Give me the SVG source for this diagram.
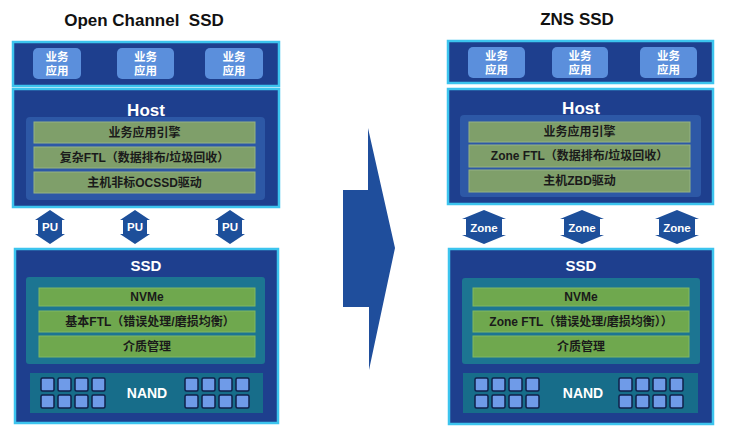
<svg xmlns="http://www.w3.org/2000/svg" width="730" height="434" viewBox="0 0 730 434">
<style>
text{font-family:"Liberation Sans","Noto Sans CJK SC",sans-serif;font-weight:bold;text-anchor:middle;dominant-baseline:central}
.title{font-size:17px;fill:#111}
.box{fill:#1e3f8e;stroke:#3cc4ee;stroke-width:2.5}
.app{fill:#5b8fdc}
.apptx{font-size:11.5px;fill:#fff}
.hpanel{fill:#2d58a6}
.spanel{fill:#1c7592}
.gh{fill:#7f9f6a;stroke:#96b283;stroke-width:1}
.gs{fill:#6fa84e;stroke:#80b862;stroke-width:1}
.bt{font-size:12px;fill:#1a1a1a}
.head{font-size:15px;fill:#fff}
.nand{fill:#176d8a}
.sq{fill:#6f9be8;stroke:#10204a;stroke-width:1.5}
.arr{fill:#1d4f9a}
.arrt{font-size:11.5px;fill:#fff}
</style>
<defs>
<g id="sqs">
<rect class="sq" x="0" y="0" width="13" height="13" rx="1.5"/>
<rect class="sq" x="17" y="0" width="13" height="13" rx="1.5"/>
<rect class="sq" x="34" y="0" width="13" height="13" rx="1.5"/>
<rect class="sq" x="51" y="0" width="13" height="13" rx="1.5"/>
<rect class="sq" x="0" y="17" width="13" height="13" rx="1.5"/>
<rect class="sq" x="17" y="17" width="13" height="13" rx="1.5"/>
<rect class="sq" x="34" y="17" width="13" height="13" rx="1.5"/>
<rect class="sq" x="51" y="17" width="13" height="13" rx="1.5"/>
</g>
<polygon id="pu" points="0,-17 -15,-7 -12,-7 -12,7 -15,7 0,17 15,7 12,7 12,-7 15,-7"/>
<polygon id="zn" points="0,-17 -22,-8 -18,-8 -18,8 -22,8 0,17 22,8 18,8 18,-8 22,-8"/>
</defs>
<rect width="730" height="434" fill="#fff"/>

<text class="title" x="144" y="20" xml:space="preserve">Open Channel  SSD</text>
<text class="title" x="577" y="19">ZNS SSD</text>

<!-- Left side -->
<g id="left-apps">
<rect class="box" x="13" y="42" width="266" height="44"/>
<rect class="app" x="33" y="48" width="48" height="31" rx="5"/>
<rect class="app" x="117" y="48" width="57" height="31" rx="5"/>
<rect class="app" x="205" y="48" width="58" height="31" rx="5"/>
<text class="apptx" x="57" y="57">业务</text><text class="apptx" x="57" y="71">应用</text>
<text class="apptx" x="145.5" y="57">业务</text><text class="apptx" x="145.5" y="71">应用</text>
<text class="apptx" x="234" y="57">业务</text><text class="apptx" x="234" y="71">应用</text>
</g>
<g id="left-host">
<rect class="box" x="13" y="89" width="266" height="118"/>
<text class="head" x="146" y="110" style="font-size:17px">Host</text>
<rect class="hpanel" x="26" y="117" width="239" height="83" rx="4"/>
<rect class="gh" x="34" y="122" width="221" height="21"/>
<rect class="gh" x="34" y="147" width="221" height="21"/>
<rect class="gh" x="34" y="172" width="221" height="21"/>
<text class="bt" x="144.5" y="132.5">业务应用引擎</text>
<text class="bt" x="144.5" y="157.5">复杂FTL（数据排布/垃圾回收）</text>
<text class="bt" x="144.5" y="182.5">主机非标OCSSD驱动</text>
</g>
<g id="left-pu">
<use href="#pu" class="arr" x="50" y="227"/>
<use href="#pu" class="arr" x="135" y="227"/>
<use href="#pu" class="arr" x="230" y="227"/>
<text class="arrt" x="50" y="227">PU</text>
<text class="arrt" x="135" y="227">PU</text>
<text class="arrt" x="230" y="227">PU</text>
</g>
<g id="left-ssd">
<rect class="box" x="15" y="249" width="263" height="174"/>
<text class="head" x="146" y="265">SSD</text>
<rect class="spanel" x="26" y="277" width="239" height="87" rx="3"/>
<rect class="gs" x="39" y="288" width="216" height="18"/>
<rect class="gs" x="39" y="311" width="216" height="21"/>
<rect class="gs" x="39" y="336" width="216" height="21"/>
<text class="bt" x="147" y="297">NVMe</text>
<text class="bt" x="150" y="321.5">基本FTL（错误处理/磨损均衡）</text>
<text class="bt" x="147" y="346.5">介质管理</text>
<rect class="nand" x="30" y="373" width="233" height="40"/>
<use href="#sqs" x="41" y="378"/>
<use href="#sqs" x="185" y="378"/>
<text class="head" x="147" y="393" style="font-size:14px">NAND</text>
</g>

<!-- Center arrow -->
<g id="big-arrow">
<polygon fill="#1f4e9c" points="368,128 395,248 369,370 369,307 343,307 343,190 368,190"/>
</g>

<!-- Right side -->
<g id="right-apps">
<rect class="box" x="448" y="41" width="265" height="42"/>
<rect class="app" x="468" y="47" width="57" height="31" rx="5"/>
<rect class="app" x="552" y="47" width="56" height="31" rx="5"/>
<rect class="app" x="640" y="47" width="57" height="31" rx="5"/>
<text class="apptx" x="496.5" y="56">业务</text><text class="apptx" x="496.5" y="70">应用</text>
<text class="apptx" x="580" y="56">业务</text><text class="apptx" x="580" y="70">应用</text>
<text class="apptx" x="668.5" y="56">业务</text><text class="apptx" x="668.5" y="70">应用</text>
</g>
<g id="right-host">
<rect class="box" x="448" y="89" width="265" height="115"/>
<text class="head" x="581" y="108" style="font-size:17px">Host</text>
<rect class="hpanel" x="460" y="115" width="241" height="82" rx="4"/>
<rect class="gh" x="469" y="122" width="221" height="20"/>
<rect class="gh" x="469" y="145" width="221" height="22"/>
<rect class="gh" x="469" y="170" width="221" height="22"/>
<text class="bt" x="579.5" y="132">业务应用引擎</text>
<text class="bt" x="579.5" y="156">Zone FTL（数据排布/垃圾回收）</text>
<text class="bt" x="579.5" y="181">主机ZBD驱动</text>
</g>
<g id="right-zone">
<use href="#zn" class="arr" x="484" y="227"/>
<use href="#zn" class="arr" x="582" y="227"/>
<use href="#zn" class="arr" x="677" y="227"/>
<text class="arrt" x="484" y="228">Zone</text>
<text class="arrt" x="582" y="228">Zone</text>
<text class="arrt" x="677" y="228">Zone</text>
</g>
<g id="right-ssd">
<rect class="box" x="449" y="249" width="264" height="175"/>
<text class="head" x="581" y="265">SSD</text>
<rect class="spanel" x="462" y="278" width="238" height="86" rx="3"/>
<rect class="gs" x="473" y="288" width="216" height="18"/>
<rect class="gs" x="473" y="311" width="216" height="21"/>
<rect class="gs" x="473" y="336" width="216" height="21"/>
<text class="bt" x="581" y="297">NVMe</text>
<text class="bt" x="581" y="321.5">Zone FTL（错误处理/磨损均衡））</text>
<text class="bt" x="581" y="346.5">介质管理</text>
<rect class="nand" x="463" y="373" width="235" height="40"/>
<use href="#sqs" x="475" y="378"/>
<use href="#sqs" x="619" y="378"/>
<text class="head" x="583" y="393" style="font-size:14px">NAND</text>
</g>
</svg>
